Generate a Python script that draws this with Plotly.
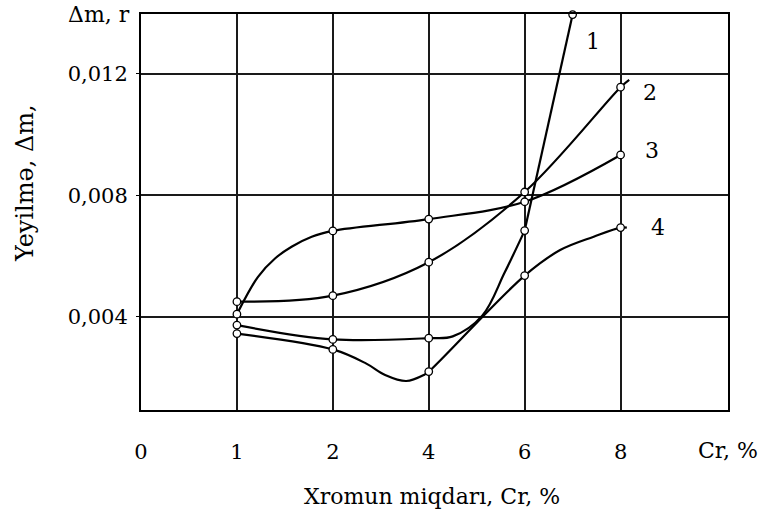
import numpy as np
import plotly.graph_objects as go

# ---------------- data ----------------
cr_ticks = [0, 1, 2, 4, 6, 8]
cr_labels = ["0", "1", "2", "4", "6", "8"]
y_ticks = [0.004, 0.008, 0.012]
y_labels = ["0,004", "0,008", "0,012"]

# curve 1 (measured points with markers, plus extra points along the drawn curve)
c1_x = [1, 2, 4, 6, 7]
c1_y = [0.00373, 0.00326, 0.00330, 0.00684, 0.01395]
c1_path_x = [4.5, 5.12, 5.58]
c1_path_y = [0.00336, 0.00405, 0.00545]
c1_straight_from = 6   # the steep end of curve 1 is drawn as a straight stroke

# curve 2
c2_x = [1, 2, 4, 6, 8]
c2_y = [0.00450, 0.00470, 0.00580, 0.00811, 0.01156]
c2_path_x = [8.18]
c2_path_y = [0.01180]

# curve 3
c3_x = [1, 2, 4, 6, 8]
c3_y = [0.00409, 0.00683, 0.00722, 0.00779, 0.00933]
c3_path_x = [1.22, 1.40, 1.57, 1.78]
c3_path_y = [0.00532, 0.00593, 0.00631, 0.00664]

# curve 4
c4_x = [1, 2, 4, 6, 8]
c4_y = [0.00345, 0.00293, 0.00220, 0.00536, 0.00694]
c4_path_x = [2.69, 3.09, 3.53, 3.90, 6.74, 7.44, 8.13]
c4_path_y = [0.00247, 0.00209, 0.00189, 0.00209, 0.00620, 0.00664, 0.00694]

curve_names = ["1", "2", "3", "4"]

# ---------------- helpers ----------------
def to_pos(cr):
    """Map Cr % onto the chart's evenly spaced (non-linear) axis positions."""
    cr = np.asarray(cr, dtype=float)
    pos = np.interp(cr, cr_ticks, np.arange(len(cr_ticks)))
    hi = cr > cr_ticks[-1]
    pos[hi] = (len(cr_ticks) - 1) + (cr[hi] - cr_ticks[-1]) / (cr_ticks[-1] - cr_ticks[-2])
    return pos


def merged(xs, ys, pxs, pys):
    x = np.array(list(xs) + list(pxs), dtype=float)
    y = np.array(list(ys) + list(pys), dtype=float)
    o = np.argsort(x)
    return x[o], y[o]


FONT = "DejaVu Serif"
LINE = dict(color="black", width=2.2)
fig = go.Figure()

curves = [
    (c1_x, c1_y, c1_path_x, c1_path_y, c1_straight_from),
    (c2_x, c2_y, c2_path_x, c2_path_y, None),
    (c3_x, c3_y, c3_path_x, c3_path_y, None),
    (c4_x, c4_y, c4_path_x, c4_path_y, None),
]

for name, (mx, my, px, py, brk) in zip(curve_names, curves):
    lx, ly = merged(mx, my, px, py)
    if brk is None:
        sx, sy = lx, ly
    else:
        sx, sy = lx[lx <= brk], ly[lx <= brk]
        fig.add_trace(go.Scatter(
            x=to_pos(lx[lx >= brk]), y=ly[lx >= brk], mode="lines",
            line=dict(**LINE, shape="linear"),
            showlegend=False, hoverinfo="skip",
        ))
    fig.add_trace(go.Scatter(
        x=to_pos(sx), y=sy, mode="lines",
        line=dict(**LINE, shape="spline", smoothing=1.0),
        showlegend=False, hoverinfo="skip",
    ))
for name, (mx, my, px, py, brk) in zip(curve_names, curves):
    fig.add_trace(go.Scatter(
        x=to_pos(mx), y=my, mode="markers", name=name,
        marker=dict(symbol="circle", size=7.5, color="white",
                    line=dict(color="black", width=1.3)),
        showlegend=False, cliponaxis=False,
    ))

# curve labels
label_pos = [(4.71, 0.01305), (5.31, 0.01140), (5.33, 0.00949), (5.39, 0.00693)]
for name, (lxp, lyp) in zip(curve_names, label_pos):
    fig.add_annotation(x=lxp, y=lyp, text=name, showarrow=False,
                       font=dict(family=FONT, size=22, color="black"))

# extra axis texts
fig.add_annotation(xref="paper", yref="paper", x=0, y=1, xanchor="right", yanchor="middle",
                   xshift=-9, text="\u0394m, r", showarrow=False,
                   font=dict(family=FONT, size=22, color="black"))
fig.add_annotation(xref="paper", yref="paper", x=1, y=0, xanchor="center", yanchor="middle",
                   yshift=-40, text="Cr, %", showarrow=False,
                   font=dict(family=FONT, size=22, color="black"))
fig.add_annotation(xref="paper", yref="paper", x=0.495, y=0, xanchor="center", yanchor="middle",
                   yshift=-86, text="Xromun miqdar\u0131, Cr, %", showarrow=False,
                   font=dict(family=FONT, size=22, color="black"))
fig.add_annotation(xref="paper", yref="paper", x=0, y=0.573, xanchor="center", yanchor="middle",
                   xshift=-116, textangle=-90, text="Yeyilm\u0259, \u0394m,", showarrow=False,
                   font=dict(family=FONT, size=24, color="black"))

fig.update_xaxes(
    range=[0, 6.12], tickvals=list(range(len(cr_ticks))), ticktext=cr_labels,
    showgrid=True, gridcolor="#1a1a1a", gridwidth=1.5,
    showline=True, linecolor="black", linewidth=2, mirror=True,
    ticks="", ticklabelstandoff=22, zeroline=False,
    tickfont=dict(family=FONT, size=21, color="black"),
)
fig.update_yaxes(
    range=[0.000936, 0.013969], tickvals=y_ticks, ticktext=y_labels,
    showgrid=True, gridcolor="#1a1a1a", gridwidth=1.5,
    showline=True, linecolor="black", linewidth=2, mirror=True,
    ticks="outside", ticklen=3, tickcolor="black", ticklabelstandoff=4, zeroline=False,
    tickfont=dict(family=FONT, size=21, color="black"),
)
fig.update_layout(
    width=764, height=511,
    margin=dict(l=141, r=36, t=14, b=101),
    plot_bgcolor="white", paper_bgcolor="white",
    showlegend=False,
)
fig.write_html("out.html")
